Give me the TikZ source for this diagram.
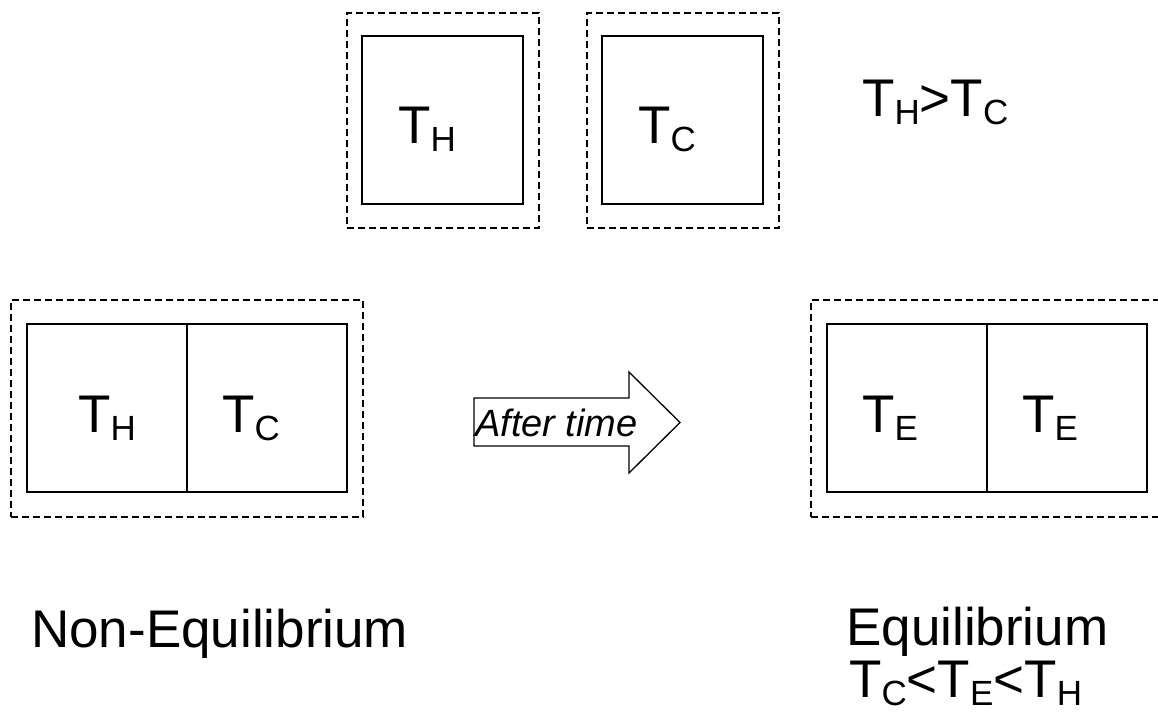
\documentclass[tikz,border=0pt]{standalone}
\usepackage{fontspec}
\setmainfont{Liberation Sans}
\newcommand{\Tx}[1]{T\raisebox{-8pt}{\fontsize{35}{35}\selectfont #1}}
\tikzset{
  solidbox/.style={draw, line width=1.8pt, inner sep=0pt},
  dashbox/.style={draw, line width=1.6pt, dash pattern=on 7pt off 4pt, inner sep=0pt},
  lbl/.style={anchor=base west, inner sep=0pt, font=\fontsize{53}{53}\selectfont},
}
\begin{document}
\begin{tikzpicture}[x=1pt,y=-1pt]
\useasboundingbox[fill=white] (0,0) rectangle (1158,719);
% top left
\node[dashbox, minimum width=192pt, minimum height=215pt] (d1) at (443,120.5) {};
\node[solidbox, minimum width=161pt, minimum height=168pt] (b1) at (442.5,120) {};
\node[lbl] (l1) at (398,144) {\Tx{H}};
% top right
\node[dashbox, minimum width=192pt, minimum height=215pt] (d2) at (683,120.5) {};
\node[solidbox, minimum width=161pt, minimum height=168pt] (b2) at (682.5,120) {};
\node[lbl] (l2) at (638,144) {\Tx{C}};
\node[lbl] (l3) at (862,117) {\Tx{H}>\Tx{C}};
% bottom left
\node[dashbox, minimum width=352pt, minimum height=217pt] (d3) at (187,408.5) {};
\node[solidbox, minimum width=160pt, minimum height=168pt] (c1) at (107,408) {};
\node[solidbox, minimum width=160pt, minimum height=168pt] (c2) at (267,408) {};
\node[lbl] (l4) at (78,432) {\Tx{H}};
\node[lbl] (l5) at (222,432) {\Tx{C}};
% arrow
\draw[line width=1.3pt, line join=miter] (474,398) -- (629,398) -- (629,372) -- (680,422.5)
  -- (629,473) -- (629,446) -- (474,446) -- cycle;
\node[anchor=base west, inner sep=0pt, font=\fontsize{38}{38}\selectfont\itshape] (at) at (475,436) {After time};
% bottom right
\node[dashbox, minimum width=352pt, minimum height=217pt] (d4) at (987,408.5) {};
\node[solidbox, minimum width=160pt, minimum height=168pt] (c3) at (907,408) {};
\node[solidbox, minimum width=160pt, minimum height=168pt] (c4) at (1067,408) {};
\node[lbl] (l6) at (862,432) {\Tx{E}};
\node[lbl] (l7) at (1022,432) {\Tx{E}};
% captions
\node[lbl] (ne) at (31,647) {Non-Equilibrium};
\node[lbl] (eq) at (846,645) {Equilibrium};
\node[lbl] (eq2) at (849,697) {\Tx{C}<\Tx{E}<\Tx{H}};
\end{tikzpicture}
\end{document}
